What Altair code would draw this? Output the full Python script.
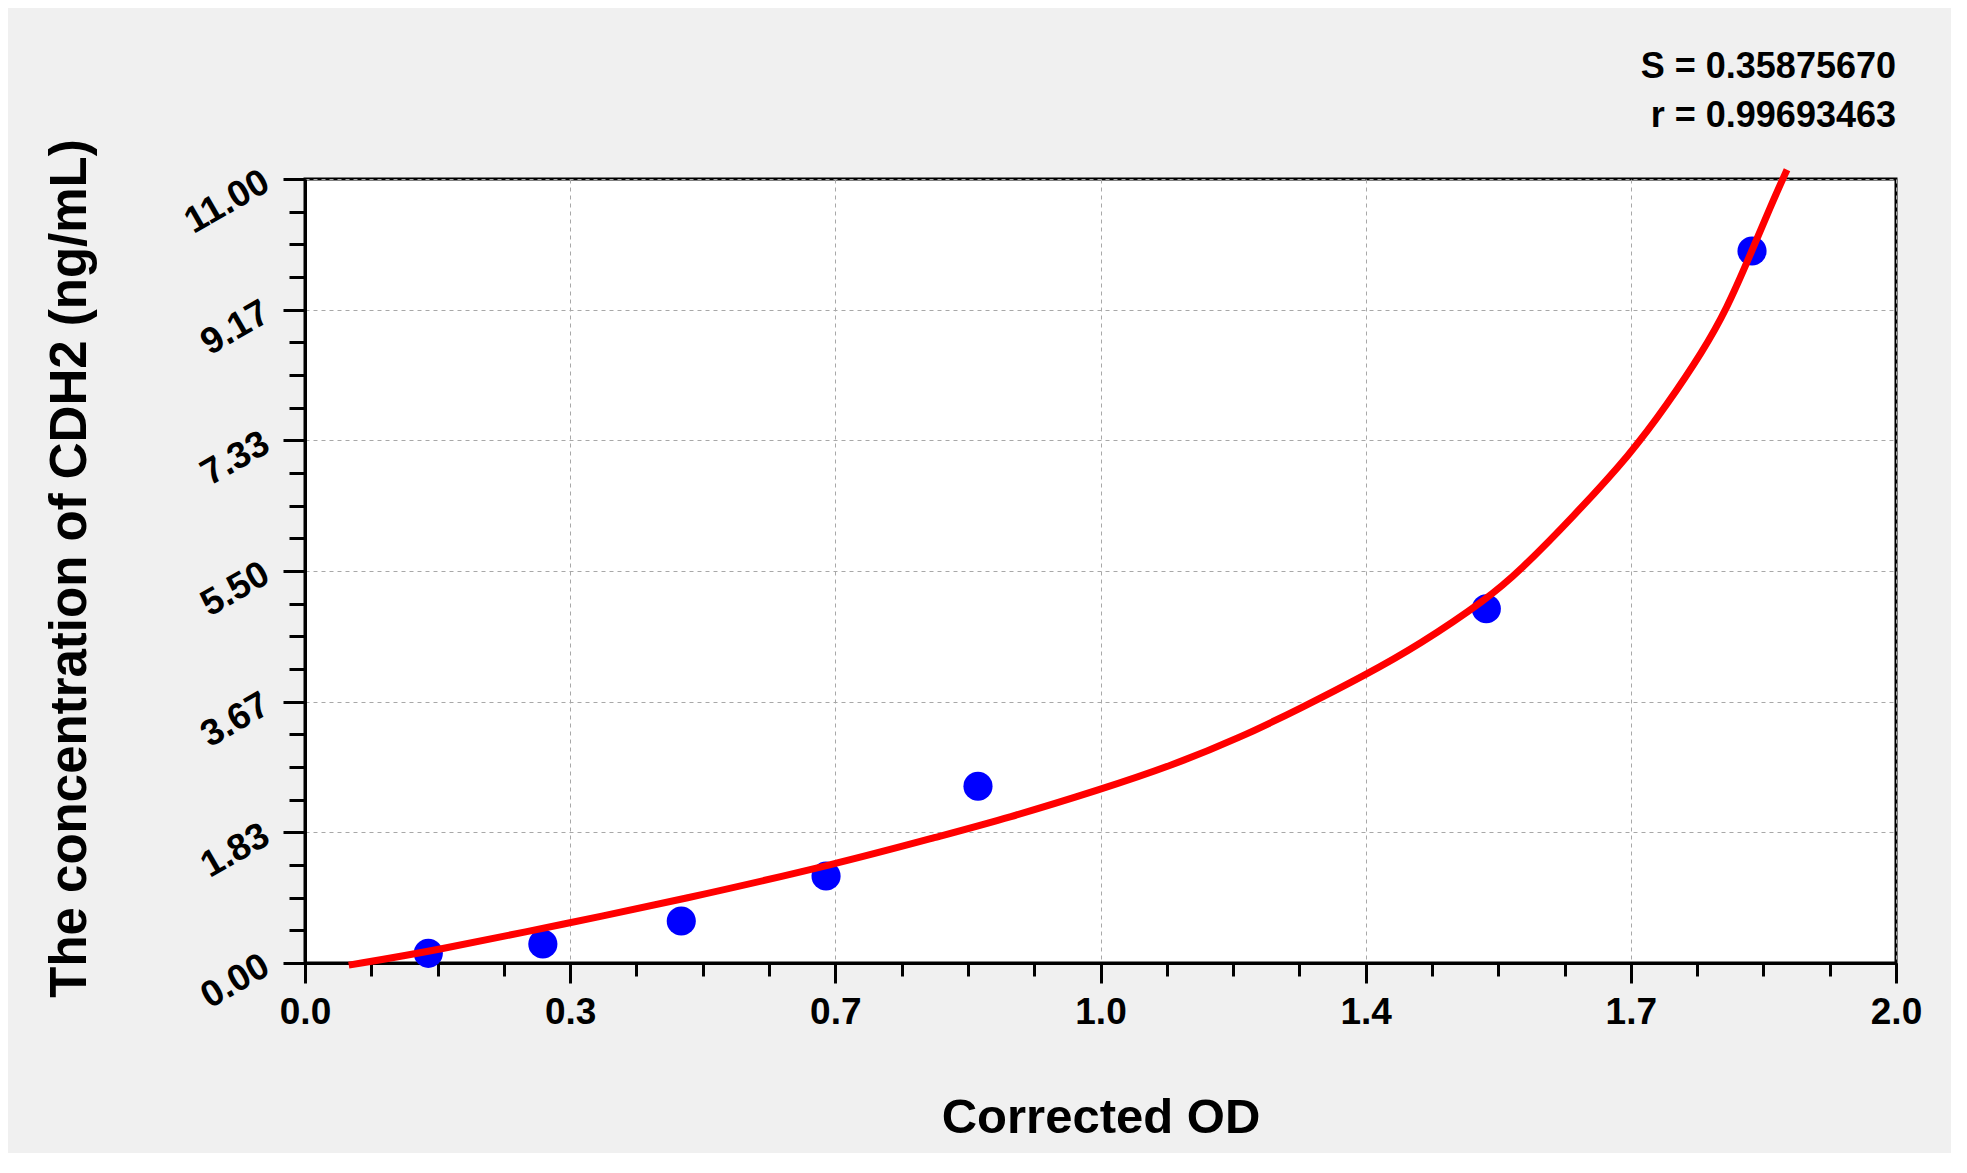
import altair as alt
import pandas as pd

# ---- data ----
od_points = [0.155, 0.299, 0.473, 0.655, 0.846, 1.485, 1.819]
conc_points = [0.136, 0.267, 0.589, 1.22, 2.48, 4.97, 9.99]

curve_od = [0.055, 0.161, 0.330, 0.471, 0.672, 0.798, 0.882, 0.999, 1.092, 1.175,
            1.251, 1.333, 1.400, 1.485, 1.527, 1.594, 1.667, 1.712, 1.757, 1.787,
            1.817, 1.842, 1.863]
curve_conc = [-0.03, 0.168, 0.557, 0.884, 1.40, 1.78, 2.03, 2.43, 2.78, 3.16,
              3.57, 4.04, 4.46, 5.10, 5.50, 6.26, 7.15, 7.83, 8.58, 9.17,
              9.94, 10.61, 11.13]

x_tick_values = [0, 1/3, 2/3, 1, 4/3, 5/3, 2]
x_tick_labels = ["0.0", "0.3", "0.7", "1.0", "1.4", "1.7", "2.0"]
y_tick_values = [0, 11/6, 11/3, 5.5, 22/3, 55/6, 11]
y_tick_labels = ["0.00", "1.83", "3.67", "5.50", "7.33", "9.17", "11.00"]
x_minor_values = [i / 12 for i in range(25)]
y_minor_values = [i * 11 / 24 for i in range(25)]

stats_lines = ["S = 0.35875670", "r = 0.99693463"]
x_title = "Corrected OD"
y_title = "The concentration of CDH2 (ng/mL)"

FONT = "Liberation Sans"
W, H = 1591, 784


def label_expr(vals, labels):
    expr = "''"
    for v, l in reversed(list(zip(vals, labels))):
        expr = f"abs(datum.value - {v!r}) < 1e-6 ? '{l}' : ({expr})"
    return expr


xscale = alt.Scale(domain=[0, 2], nice=False, zero=False)
yscale = alt.Scale(domain=[0, 11], nice=False, zero=False)

common_major = dict(
    grid=True, gridDash=[4, 4], gridColor="#a8a8a8", gridWidth=1,
    tickWidth=3, tickColor="black", domainWidth=3, domainColor="black",
    labelFont=FONT, labelFontSize=37, labelFontWeight="bold", labelColor="black",
    labelFlush=False, labelOverlap=False,
    titleFont=FONT, titleFontWeight="bold", titleColor="black",
)

x_major_axis = alt.Axis(
    orient="bottom", values=x_tick_values,
    labelExpr=label_expr(x_tick_values, x_tick_labels),
    tickSize=20, labelPadding=11,
    title=x_title, titleFontSize=49, titleX=W / 2, titleY=169,
    titleAlign="center", titleBaseline="alphabetic", **common_major)

y_major_axis = alt.Axis(
    orient="left", values=y_tick_values,
    labelExpr=label_expr(y_tick_values, y_tick_labels),
    tickSize=22, labelPadding=17, labelAngle=330, labelAlign="right",
    labelBaseline="middle",
    title=y_title, titleFontSize=51, titleX=-235, titleY=H / 2 - 3,
    titleAngle=270, titleAlign="center", titleBaseline="middle",
    **common_major)

x_minor_axis = alt.Axis(orient="bottom", values=x_minor_values, labels=False,
                        grid=False, domain=False, tickSize=13, tickWidth=3,
                        tickColor="black", title=None)
y_minor_axis = alt.Axis(orient="left", values=y_minor_values, labels=False,
                        grid=False, domain=False, tickSize=16, tickWidth=3,
                        tickColor="black", title=None)

pts = pd.DataFrame({"od": od_points, "conc": conc_points})
cv = pd.DataFrame({"od": curve_od, "conc": curve_conc})

points = alt.Chart(pts).mark_circle(size=850, color="#0000ff", opacity=1).encode(
    x=alt.X("od:Q", scale=xscale, axis=x_major_axis),
    y=alt.Y("conc:Q", scale=yscale, axis=y_major_axis),
)

curve = alt.Chart(cv).mark_line(color="#ff0000", strokeWidth=7,
                                interpolate="basis").encode(
    x=alt.X("od:Q", scale=xscale, axis=x_minor_axis),
    y=alt.Y("conc:Q", scale=yscale, axis=y_minor_axis),
)

s_text = alt.Chart(pd.DataFrame({"t": [stats_lines[0]]})).mark_text(
    align="right", baseline="alphabetic", font=FONT, fontSize=36,
    fontWeight="bold", color="black").encode(
    text="t:N", x=alt.value(W), y=alt.value(-101))

r_text = alt.Chart(pd.DataFrame({"t": [stats_lines[1]]})).mark_text(
    align="right", baseline="alphabetic", font=FONT, fontSize=36,
    fontWeight="bold", color="black").encode(
    text="t:N", x=alt.value(W), y=alt.value(-52))

chart = alt.layer(points, curve, s_text, r_text).resolve_axis(
    x="independent", y="independent"
).properties(
    width=W, height=H,
    autosize=alt.AutoSizeParams(type="none"),
    padding={"left": 297, "top": 171, "right": 55, "bottom": 190},
).configure(background="#f0f0f0").configure_view(
    fill="white", stroke="black", strokeWidth=3)

chart.save("out.html", embed_options={"renderer": "svg", "actions": False})
